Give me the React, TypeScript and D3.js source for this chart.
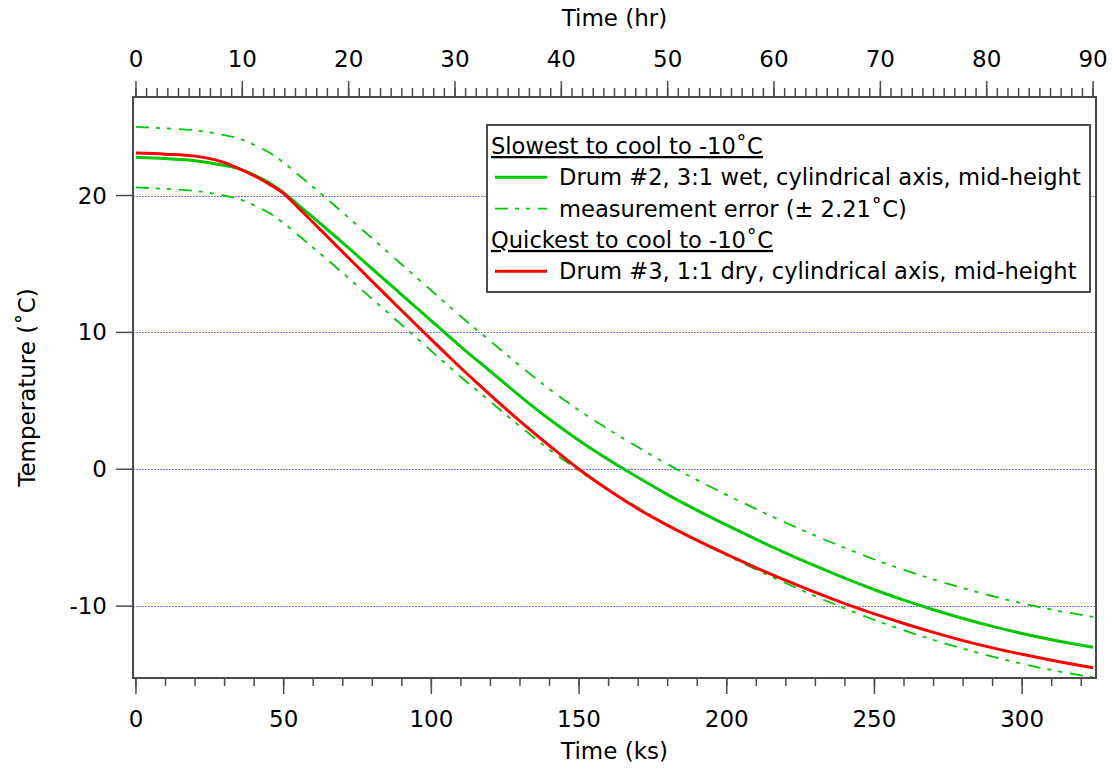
import React from 'react';
import * as d3 from 'd3';

// ---- data (time in ks, temperature in °C) ----
const timeKs = [0, 10, 20, 30, 35, 40, 45, 50, 55, 60, 65, 70, 75, 80, 85, 90, 95, 100, 105, 110, 115, 120, 130, 140, 150, 160, 170, 180, 190, 200, 210, 220, 230, 240, 250, 260, 270, 280, 290, 300, 310, 324];
const drum2 = [22.8, 22.7, 22.55, 22.2, 21.95, 21.5, 20.95, 20.2, 19.3, 18.4, 17.48, 16.55, 15.6, 14.65, 13.7, 12.75, 11.8, 10.85, 9.9, 8.95, 8.05, 7.15, 5.35, 3.65, 2.1, 0.7, -0.6, -1.85, -3.0, -4.08, -5.12, -6.12, -7.06, -7.96, -8.8, -9.56, -10.26, -10.9, -11.48, -12.0, -12.46, -13.0];
const drum3 = [23.1, 23.02, 22.88, 22.4, 21.95, 21.45, 20.85, 20.15, 19.1, 18.03, 16.95, 15.87, 14.8, 13.72, 12.65, 11.58, 10.52, 9.47, 8.43, 7.4, 6.4, 5.42, 3.52, 1.72, 0.0, -1.52, -2.9, -4.1, -5.2, -6.22, -7.2, -8.12, -9.0, -9.82, -10.57, -11.27, -11.92, -12.52, -13.05, -13.52, -13.95, -14.5];
const measurementError = 2.21;

const bottomMajor = [0, 50, 100, 150, 200, 250, 300];
const bottomMinor = d3.range(0, 321, 10);
const topMajor = [0, 10, 20, 30, 40, 50, 60, 70, 80, 90];
const topMinor = d3.range(0, 91, 1);
const yTicks = [-10, 0, 10, 20];

const GREEN = '#00c800';
const RED = '#ff0000';

const legendItems = [
  { kind: 'header', label: 'Slowest to cool to -10˚C' },
  { kind: 'solid', color: GREEN, label: 'Drum #2, 3:1 wet, cylindrical axis, mid-height' },
  { kind: 'dash', color: GREEN, label: 'measurement error (± 2.21˚C)' },
  { kind: 'header', label: 'Quickest to cool to -10˚C' },
  { kind: 'solid', color: RED, label: 'Drum #3, 1:1 dry, cylindrical axis, mid-height' },
];

const AXIS = '#4a4a4a';
const FONT = '"DejaVu Sans", sans-serif';
const DASH = '13 7 4 7 4 8';

export default function App() {
  const L = 133, R = 1096, T = 97, B = 678;
  const x = d3.scaleLinear().domain([-1.0, 325]).range([L, R]);
  const y = d3.scaleLinear().domain([-15.25, 27.2]).range([B, T]);
  const hrToKs = (h: number) => h * 3.6;

  const pts = (vals: number[]) => timeKs.map((t, i) => [t, vals[i]] as [number, number]);
  const line = d3.line<[number, number]>().x(d => x(d[0])).y(d => y(d[1])).curve(d3.curveMonotoneX);

  const upper = drum2.map(v => v + measurementError);
  const lower = drum2.map(v => v - measurementError);

  const legX = 487, legY = 125, legW = 603, legH = 167;
  const rowH = 31.3;

  return (
    <svg width={1112} height={768} style={{ position: 'absolute', left: 0, top: 0, background: '#fff' }} fontFamily={FONT}>
      <defs>
        <clipPath id="plotClip">
          <rect x={L} y={T} width={R - L} height={B - T} />
        </clipPath>
      </defs>

      {/* grid */}
      {yTicks.map(v => {
        const gy = Math.round(y(v)) + 0.5;
        return <line key={'g' + v} x1={L} x2={R} y1={gy} y2={gy} stroke="#7878ff" strokeWidth={1} strokeDasharray="2 1" />;
      })}

      {/* curves */}
      <g clipPath="url(#plotClip)" fill="none">
        <path d={line(pts(upper)) || ''} stroke={GREEN} strokeWidth={1.8} strokeDasharray={DASH} />
        <path d={line(pts(lower)) || ''} stroke={GREEN} strokeWidth={1.8} strokeDasharray={DASH} />
        <path d={line(pts(drum2)) || ''} stroke={GREEN} strokeWidth={3} />
        <path d={line(pts(drum3)) || ''} stroke={RED} strokeWidth={3} />
      </g>

      {/* frame */}
      <rect x={L} y={T} width={R - L} height={B - T} fill="none" stroke={AXIS} strokeWidth={2} />

      {/* bottom axis */}
      {bottomMinor.map(v => (
        <line key={'bm' + v} x1={x(v)} x2={x(v)} y1={B} y2={B + 8} stroke={AXIS} strokeWidth={1.5} />
      ))}
      {bottomMajor.map(v => (
        <g key={'bM' + v}>
          <line x1={x(v)} x2={x(v)} y1={B} y2={B + 16} stroke={AXIS} strokeWidth={1.5} />
          <text x={x(v)} y={727} fontSize={23} textAnchor="middle" fill="#000">{v}</text>
        </g>
      ))}
      <text x={(L + R) / 2} y={759} fontSize={23} textAnchor="middle" fill="#000">Time (ks)</text>

      {/* top axis */}
      {topMinor.map(v => (
        <line key={'tm' + v} x1={x(hrToKs(v))} x2={x(hrToKs(v))} y1={T} y2={T - 9} stroke={AXIS} strokeWidth={1.5} />
      ))}
      {topMajor.map(v => (
        <g key={'tM' + v}>
          <line x1={x(hrToKs(v))} x2={x(hrToKs(v))} y1={T} y2={T - 16} stroke={AXIS} strokeWidth={1.5} />
          <text x={x(hrToKs(v))} y={67} fontSize={23} textAnchor="middle" fill="#000">{v}</text>
        </g>
      ))}
      <text x={(L + R) / 2} y={26} fontSize={23} textAnchor="middle" fill="#000">Time (hr)</text>

      {/* left axis */}
      {yTicks.map(v => (
        <g key={'y' + v}>
          <line x1={L - 17} x2={L} y1={y(v)} y2={y(v)} stroke={AXIS} strokeWidth={1.5} />
          <text x={107} y={y(v) + 8} fontSize={23} textAnchor="end" fill="#000">{v}</text>
        </g>
      ))}
      <text transform={`translate(35, ${(T + B) / 2}) rotate(-90)`} fontSize={23} textAnchor="middle" fill="#000">Temperature (˚C)</text>

      {/* legend */}
      <rect x={legX} y={legY} width={legW} height={legH} fill="#fff" stroke={AXIS} strokeWidth={2} />
      {legendItems.map((it, i) => {
        const cy = legY + 21 + i * rowH;
        if (it.kind === 'header') {
          return (
            <text key={'l' + i} x={491} y={cy + 8} fontSize={22.6} fill="#000" style={{ textDecoration: 'underline' }}>{it.label}</text>
          );
        }
        return (
          <g key={'l' + i}>
            <line x1={495} x2={547} y1={cy} y2={cy} stroke={it.color} strokeWidth={it.kind === 'solid' ? 3 : 1.8} strokeDasharray={it.kind === 'dash' ? DASH : undefined} />
            <text x={559} y={cy + 8} fontSize={22.6} fill="#000">{it.label}</text>
          </g>
        );
      })}
    </svg>
  );
}
